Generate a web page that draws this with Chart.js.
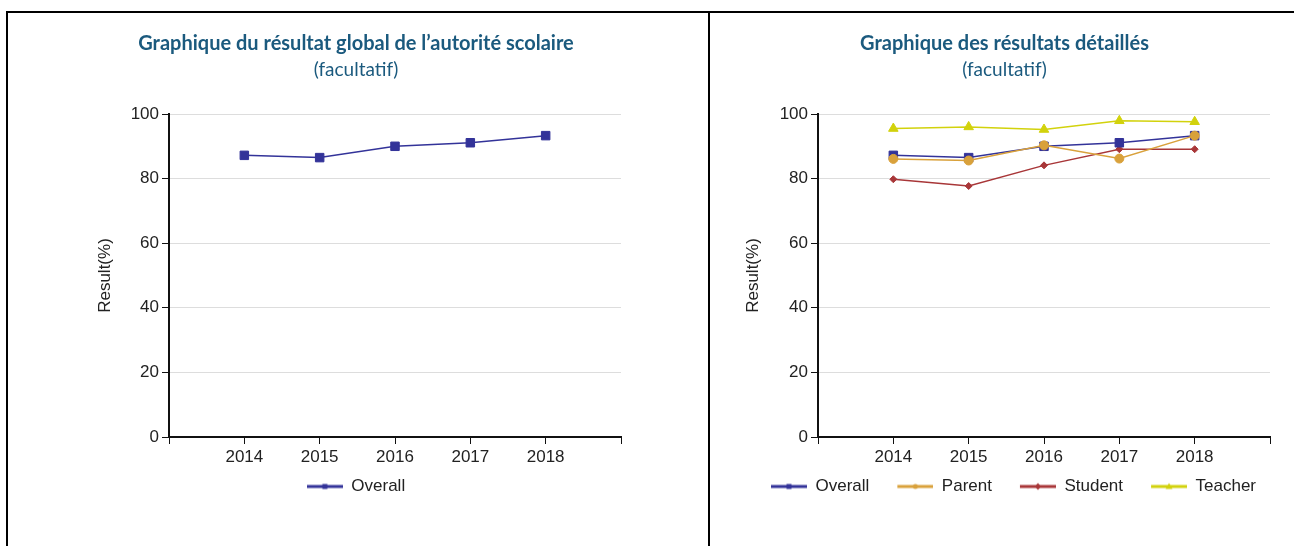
<!DOCTYPE html>
<html>
<head>
<meta charset="utf-8">
<script src="https://cdn.jsdelivr.net/npm/chart.js@4.4.1/dist/chart.umd.min.js"></script>
<style>
  body { margin: 0; background: #fff; }
  #page { position: relative; width: 1294px; height: 546px; overflow: hidden; }
  #frame { position: absolute; left: 6px; top: 11px; width: 1400px; height: 600px; border-top: 2px solid #000; border-left: 2px solid #000; }
  #divider { position: absolute; left: 708px; top: 11px; width: 2px; height: 540px; background: #000; }
  canvas { position: absolute; }
  #overallChart { left: 8px; top: 13px; }
  #detailChart { left: 710px; top: 13px; }
</style>
</head>
<body>
<div id="page">
  <div id="frame"></div>
  <div id="divider"></div>
  <canvas id="overallChart" width="700" height="533"></canvas>
  <canvas id="detailChart" width="584" height="533"></canvas>
</div>
<script>
// axe X : une position vide de chaque côté, comme dans le graphique d'origine
const years = ['', '2014', '2015', '2016', '2017', '2018', ''];
const overall = [null, 87.2, 86.5, 90.0, 91.1, 93.3, null];
const parent = [null, 86.1, 85.6, 90.3, 86.2, 93.3, null];
const student = [null, 79.8, 77.7, 84.1, 89.1, 89.1, null];
const teacher = [null, 95.5, 96.0, 95.2, 97.9, 97.6, null];
const yTickValues = [0, 20, 40, 60, 80, 100];

const titleColor = '#1b5a7e';
const axisColor = '#111';

Chart.defaults.font.family = "'Liberation Sans', Arial, sans-serif";
Chart.defaults.font.size = 17;
Chart.defaults.color = '#222';

// petite icône de légende : trait + marqueur (avec marge à gauche pour espacer les items)
function legendIcon(color, shape, offset) {
    const c = document.createElement('canvas');
    c.width = 36 + offset;
    c.height = 10;
    const g = c.getContext('2d');
    g.fillStyle = color;
    g.fillRect(offset, 3.5, 36, 3);
    const m = offset + 18;
    g.beginPath();
    if (shape === 'rect') g.rect(m - 2.5, 2.5, 5, 5);
    else if (shape === 'circle') g.arc(m, 5, 2.5, 0, Math.PI * 2);
    else if (shape === 'rectRot') { g.moveTo(m, 1.5); g.lineTo(m + 3, 5); g.lineTo(m, 8.5); g.lineTo(m - 3, 5); g.closePath(); }
    else { g.moveTo(m, 1.5); g.lineTo(m + 3.5, 7.5); g.lineTo(m - 3.5, 7.5); g.closePath(); }
    g.fill();
    return c;
}

function series(label, data, color, shape, radius, order) {
    return {
        label: label,
        data: data,
        borderColor: color,
        backgroundColor: color,
        borderWidth: 1.5,
        pointStyle: shape,
        pointRadius: radius,
        pointBorderWidth: 1,
        pointHoverRadius: radius,
        order: order
    };
}

function makeOptions(title, padLeft, padRight, yWidth, iconOffset) {
    return {
        responsive: false,
        animation: false,
        layout: { padding: { left: padLeft, right: padRight, top: 0, bottom: 41 } },
        plugins: {
            title: {
                display: true,
                text: title,
                color: titleColor,
                font: { family: 'Lato', size: 20, weight: 'bold' },
                padding: { top: 19, bottom: 1 }
            },
            subtitle: {
                display: true,
                text: '(facultatif)',
                color: titleColor,
                font: { family: 'Lato', size: 19, weight: 'normal' },
                padding: { top: 1.6, bottom: 32.6 }
            },
            legend: {
                position: 'bottom',
                labels: {
                    usePointStyle: true,
                    pointStyleWidth: 36 + iconOffset,
                    padding: 10,
                    color: '#222',
                    font: { size: 17 },
                    sort: (a, b) => a.datasetIndex - b.datasetIndex,
                    generateLabels: chart => Chart.defaults.plugins.legend.labels.generateLabels(chart).map(item => {
                        const ds = chart.data.datasets[item.datasetIndex];
                        item.pointStyle = legendIcon(ds.borderColor, ds.pointStyle, iconOffset);
                        return item;
                    })
                }
            },
            tooltip: { enabled: false }
        },
        scales: {
            x: {
                type: 'category',
                offset: false,
                border: { color: axisColor, width: 2 },
                grid: { drawOnChartArea: false, tickLength: 7, tickColor: axisColor, offset: false },
                ticks: { autoSkip: false, maxRotation: 0, padding: 3, color: '#222' },
                afterFit: scale => { scale.height = 31; }
            },
            y: {
                min: 0,
                max: 100,
                border: { color: axisColor, width: 2 },
                grid: { color: '#dddddd', lineWidth: 1, tickLength: 7, tickColor: axisColor },
                ticks: { padding: 3, color: '#222' },
                afterBuildTicks: axis => { axis.ticks = yTickValues.map(v => ({ value: v })); },
                title: { display: true, text: 'Result(%)', color: '#222', font: { size: 17 } },
                afterFit: scale => { scale.width = yWidth; }
            }
        }
    };
}

new Chart(document.getElementById('overallChart'), {
    type: 'line',
    data: {
        labels: years,
        datasets: [series('Overall', overall, '#333399', 'rect', 6, 1)]
    },
    options: makeOptions('Graphique du résultat global de l’autorité scolaire', 83, 87, 78, 0)
});

new Chart(document.getElementById('detailChart'), {
    type: 'line',
    data: {
        labels: years,
        datasets: [
            series('Overall', overall, '#333399', 'rect', 6, 1),
            series('Parent', parent, '#d9a13b', 'circle', 4.5, 0),
            series('Student', student, '#a83638', 'rectRot', 3.5, 2),
            series('Teacher', teacher, '#d2d20c', 'triangle', 5.5, 3)
        ]
    },
    options: makeOptions('Graphique des résultats détaillés', 29, 24, 79, 18)
});
</script>
</body>
</html>
